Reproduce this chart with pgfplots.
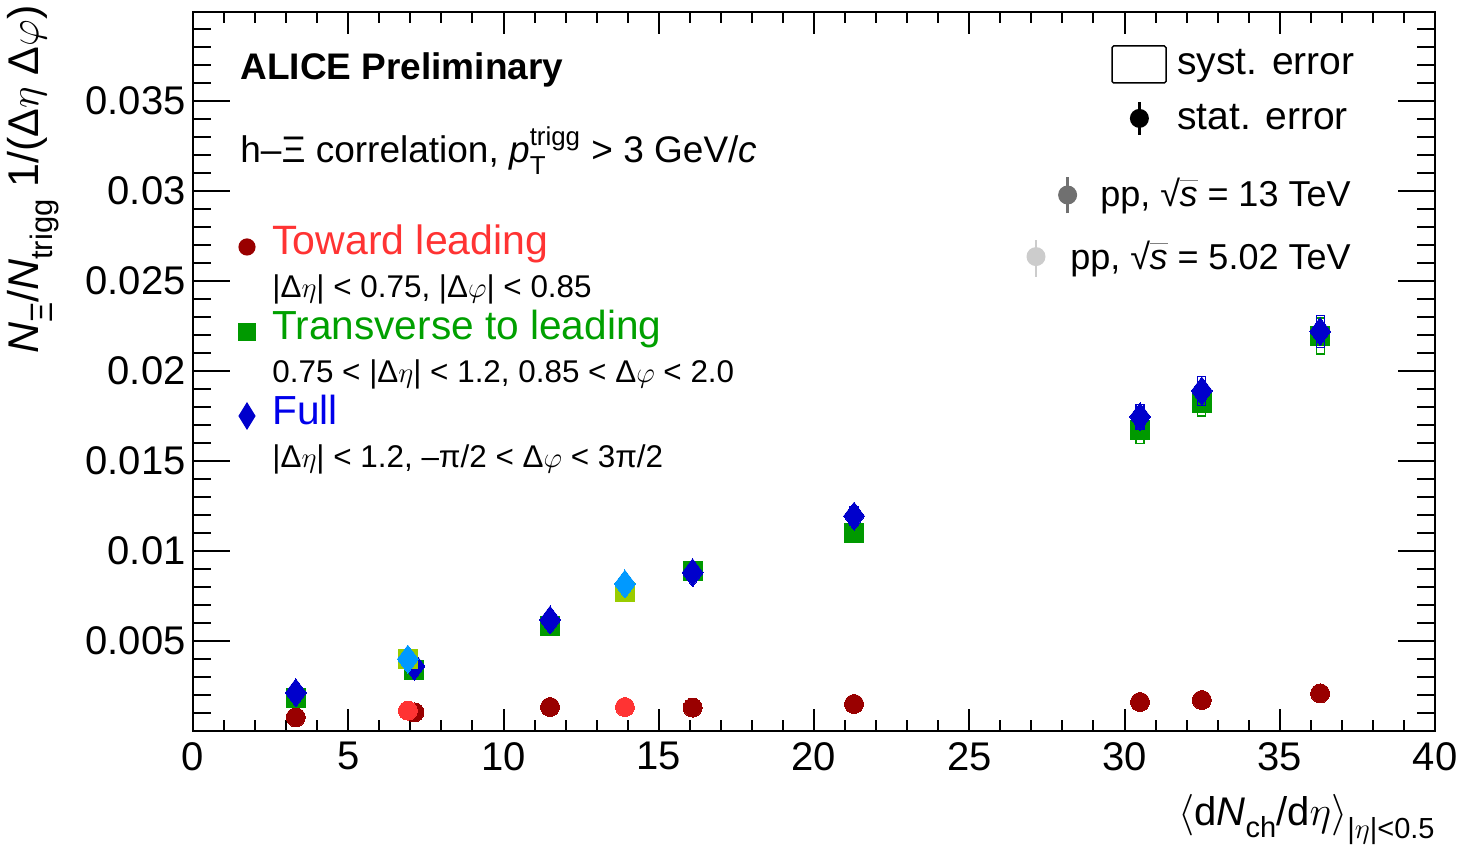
\documentclass[border=0pt]{standalone}
\usepackage{amsmath}
\usepackage{pgfplots}
\pgfplotsset{compat=1.18}
\usepackage{pgfplotstable}
\usepackage{fontspec}
\setmainfont{Liberation Sans}

\definecolor{towA}{RGB}{153,0,0}
\definecolor{towB}{RGB}{255,51,51}
\definecolor{traA}{RGB}{0,153,0}
\definecolor{traB}{RGB}{153,204,0}
\definecolor{fulA}{RGB}{0,0,204}
\definecolor{fulB}{RGB}{0,153,255}
\definecolor{txtR}{RGB}{255,51,51}
\definecolor{txtG}{RGB}{0,160,0}
\definecolor{txtB}{RGB}{0,0,235}
\definecolor{ppA}{RGB}{112,112,112}
\definecolor{ppB}{RGB}{204,204,204}

% pp, sqrt(s) = 13 TeV
\pgfplotstableread{
x      y        sy
3.31   0.00076  0.00004
7.13   0.00104  0.00005
11.50  0.00133  0.00006
16.09  0.00130  0.00006
21.29  0.00150  0.00007
30.50  0.00161  0.00008
32.49  0.00172  0.00008
36.30  0.00209  0.00010
}\towA
\pgfplotstableread{
x      y        sy
3.31   0.00182  0.00010
7.13   0.00339  0.00017
11.50  0.00583  0.00028
16.09  0.00889  0.00040
21.29  0.01100  0.00050
30.50  0.01672  0.00074
32.49  0.01820  0.00070
36.30  0.02194  0.00100
}\traA
\pgfplotstableread{
x      y        sy
3.31   0.00213  0.00010
7.13   0.00361  0.00017
11.50  0.00617  0.00030
16.09  0.00880  0.00040
21.29  0.01194  0.00050
30.50  0.01746  0.00070
32.49  0.01890  0.00080
36.30  0.02220  0.00088
}\fulA
% pp, sqrt(s) = 5.02 TeV
\pgfplotstableread{
x      y        sy
6.92   0.00113  0.00005
13.91  0.00133  0.00006
}\towB
\pgfplotstableread{
x      y        sy
6.92   0.00400  0.00018
13.91  0.00770  0.00035
}\traB
\pgfplotstableread{
x      y        sy
6.92   0.00400  0.00018
13.91  0.00817  0.00036
}\fulB

\newdimen\syshalf
\pgfdeclareplotmark{sysbox}{%
  \pgfmathsetlength{\syshalf}{\sysh*1pt}%
  \pgfpathrectanglecorners{\pgfpoint{-2pt}{-\syshalf}}{\pgfpoint{2pt}{\syshalf}}%
  \pgfusepathqstroke}

\pgfplotsset{
  sys/.style={only marks, mark=sysbox, color=#1,
    mark options={line width=0.6pt, fill=none, draw=#1},
    visualization depends on={9000*\thisrow{sy} \as \sysh}},
  circ/.style={only marks, mark=*, mark size=4.75pt,
    mark options={draw=#1, fill=#1, line width=0pt}},
  sq/.style={only marks, mark=square*, mark size=4.75pt,
    mark options={draw=#1, fill=#1, line width=0pt}},
  dia/.style={only marks, mark=diamond*, mark size=7pt,
    mark options={draw=#1, fill=#1, line width=0pt}},
}

\newcommand{\rsqrts}{√\kern-0.02em\rlap{\color{gray}\rule[0.72em]{0.5em}{0.45pt}}\textit{s}}
\newcommand{\sub}[1]{\raisebox{-0.32em}{\fontsize{15.5}{15.5}\selectfont #1}}

\begin{document}
\begin{tikzpicture}
\begin{axis}[
  scale only axis,
  width=621pt, height=359.5pt,
  xmin=0, xmax=40, ymin=0, ymax=0.039944,
  axis line style={line width=1.3pt},
  xtick={0,5,...,40},
  minor xtick={0,1,...,40},
  ytick={0.005,0.01,0.015,0.02,0.025,0.03,0.035},
  minor ytick={0.001,0.002,...,0.039},
  tick align=inside,
  tick pos=both,
  xticklabel pos=lower, yticklabel pos=left,
  every tick/.style={line width=1pt, black},
  every major x tick/.append style={/pgfplots/major tick length=11pt},
  every minor x tick/.append style={/pgfplots/minor tick length=5.5pt},
  every major y tick/.append style={/pgfplots/major tick length=18.5pt},
  every minor y tick/.append style={/pgfplots/minor tick length=9pt},
  scaled y ticks=false,
  /pgf/number format/assume math mode=true,
  yticklabel style={/pgf/number format/fixed, /pgf/number format/precision=3,
    font=\fontsize{20}{24}\selectfont, inner sep=0pt, xshift=-3.5pt},
  xticklabel style={font=\fontsize{20}{24}\selectfont, inner sep=0pt, yshift=-5.5pt},
  clip=false,
]
% 13 TeV
\addplot[sys=towA] table[x=x,y=y]{\towA};
\addplot[circ=towA] table[x=x,y=y]{\towA};
\addplot[sys=traA] table[x=x,y=y]{\traA};
\addplot[sq=traA] table[x=x,y=y]{\traA};
\addplot[sys=fulA] table[x=x,y=y]{\fulA};
\addplot[dia=fulA] table[x=x,y=y]{\fulA};
% 5.02 TeV
\addplot[sys=towB] table[x=x,y=y]{\towB};
\addplot[circ=towB] table[x=x,y=y]{\towB};
\addplot[sys=traB] table[x=x,y=y]{\traB};
\addplot[sq=traB] table[x=x,y=y]{\traB};
\addplot[sys=fulB] table[x=x,y=y]{\fulB};
\addplot[dia=fulB] table[x=x,y=y]{\fulB};
\end{axis}

% axis titles
\node[rotate=90, anchor=east, inner sep=0pt, font=\fontsize{21.5}{24}\selectfont]
  at (-80pt,363pt) {\textit{N}\sub{Ξ}/\textit{N}\sub{trigg} 1/(Δ$\eta$ Δ$\varphi$)};
\node[anchor=base east, inner sep=0pt, font=\fontsize{20}{24}\selectfont]
  at (621pt,-47pt) {$\langle$d\textit{N}\raisebox{-6pt}{\fontsize{14.5}{16}\selectfont ch}/d$\eta\rangle$\raisebox{-6.5pt}{\fontsize{14.5}{16}\selectfont |$\eta$|<0.5}};

% left texts
\node[anchor=base west, inner sep=0pt, font=\fontsize{18.5}{22}\selectfont\bfseries]
  at (23.5pt,325.5pt) {ALICE Preliminary};
\node[anchor=base west, inner sep=0pt, font=\fontsize{18.5}{22}\selectfont]
  at (23.5pt,284pt) {h–Ξ correlation, \textit{p}$_{\text{T}}^{\text{trigg}}$ > 3 GeV/\textit{c}};

\fill[towA] (27pt,242pt) circle (4.3pt);
\node[anchor=base west, inner sep=0pt, text=txtR, font=\fontsize{20.5}{24}\selectfont]
  at (39.5pt,238pt) {Toward leading};
\node[anchor=base west, inner sep=0pt, font=\fontsize{15.7}{18}\selectfont]
  at (39.5pt,216.5pt) {|Δ$\eta$| < 0.75, |Δ$\varphi$| < 0.85};

\fill[traA] (22.7pt,195.2pt) rectangle (31.3pt,203.8pt);
\node[anchor=base west, inner sep=0pt, text=txtG, font=\fontsize{20.3}{24}\selectfont]
  at (39.5pt,195.5pt) {Transverse to leading};
\node[anchor=base west, inner sep=0pt, font=\fontsize{15.7}{18}\selectfont]
  at (39.5pt,174pt) {0.75 < |Δ$\eta$| < 1.2, 0.85 < Δ$\varphi$ < 2.0};

\fill[fulA] (27pt,164.5pt) -- (31.3pt,157.5pt) -- (27pt,150.5pt) -- (22.7pt,157.5pt) -- cycle;
\node[anchor=base west, inner sep=0pt, text=txtB, font=\fontsize{20.3}{24}\selectfont]
  at (39.5pt,153pt) {Full};
\node[anchor=base west, inner sep=0pt, font=\fontsize{15.7}{18}\selectfont]
  at (39.5pt,131.5pt) {|Δ$\eta$| < 1.2, –π/2 < Δ$\varphi$ < 3π/2};

% right legend
\draw[line width=0.75pt, rounded corners=0.8pt] (459.5pt,324pt) rectangle (486.5pt,342.5pt);
\node[anchor=base west, inner sep=0pt, font=\fontsize{19.5}{24}\selectfont]
  at (492pt,328pt) {syst. error};
\draw[line width=1.3pt] (473.2pt,298pt) -- (473.2pt,314.7pt);
\fill[black] (473.2pt,306.3pt) circle (4.75pt);
\node[anchor=base west, inner sep=0pt, font=\fontsize{19.5}{24}\selectfont]
  at (492pt,300.5pt) {stat. error};

\draw[ppA, line width=1.3pt] (437.3pt,258.8pt) -- (437.3pt,277.2pt);
\fill[ppA] (437.3pt,268pt) circle (4.75pt);
\node[anchor=base west, inner sep=0pt, font=\fontsize{18}{22}\selectfont]
  at (453.5pt,262.2pt) {pp, \rsqrts{} = 13 TeV};
\draw[ppB, line width=1.3pt] (421.5pt,227.2pt) -- (421.5pt,245.5pt);
\fill[ppB] (421.5pt,237.2pt) circle (4.75pt);
\node[anchor=base west, inner sep=0pt, font=\fontsize{18}{22}\selectfont]
  at (438.5pt,230.5pt) {pp, \rsqrts{} = 5.02 TeV};

\pgfresetboundingbox
\path[use as bounding box] (-96.5pt,-57.5pt) rectangle (633.5pt,365.5pt);
\end{tikzpicture}
\end{document}
